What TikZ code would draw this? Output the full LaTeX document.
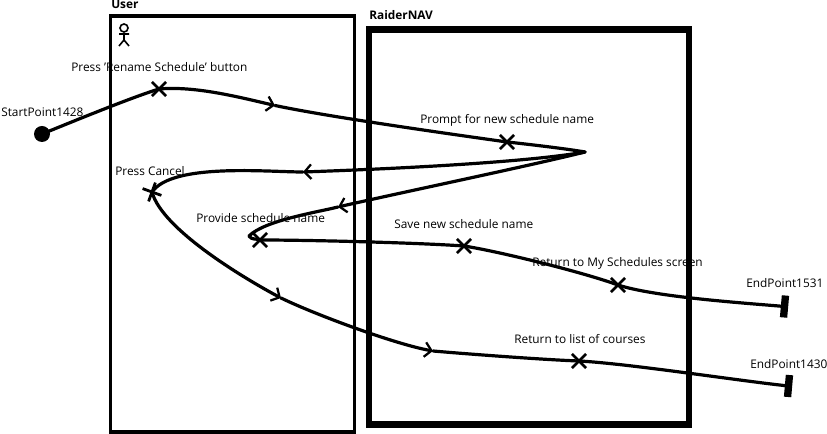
\documentclass[tikz,border=0pt]{standalone}
\usepackage{fontspec}
\setmainfont{Open Sans}
\usetikzlibrary{arrows.meta, shapes.misc}

\begin{document}
\begin{tikzpicture}
[x=0.75pt, y=0.75pt,
 >={Straight Barb[length=5pt,width=11pt,line width=1.7pt]},
 every edge/.style={draw,line width=2.4pt,line cap=round,looseness=0.6},
 tip/.style={every edge/.append style={->}},
 label/.style={font=\fontsize{8.9}{11}\selectfont,inner sep=0pt,anchor=west},
 title/.style={font=\fontsize{8.9}{11}\selectfont\bfseries,inner sep=0pt,anchor=west},
 lane/.style={draw,rectangle,inner sep=0pt},
 mark x/.style={draw,cross out,line width=2.1pt,minimum size=8.5pt,inner sep=0pt},
 endbar/.style={fill=black,rectangle,minimum width=5.5pt,minimum height=16.5pt,inner sep=0pt},
]

\useasboundingbox (0,0) rectangle (827,434);

\node[lane, line width=2.3pt, minimum width=183pt, minimum height=312pt] (user) at (232.5,210) {};
\node[lane, line width=5.2pt, minimum width=240pt, minimum height=296pt] (nav) at (529,207) {};

\node[title] (usertitle) at (111,430) {User};
\node[title] (navtitle) at (369,419) {RaiderNAV};

\node[circle, draw, line width=1.2pt, minimum size=6pt, inner sep=0pt] (actor) at (124,406) {};
\coordinate (hip) at (124,394);
\coordinate (armL) at (119,400);
\coordinate (armR) at (129,400);
\coordinate (legL) at (119,388);
\coordinate (legR) at (129,388);
\draw[line width=1.2pt] (actor.south) -- (hip) (armL) -- (armR) (legL) -- (hip) -- (legR);

\node[label] (lstart) at (1,322) {StartPoint1428};
\node[label] (lpress) at (71,367) {Press 'Rename Schedule' button};
\node[label] (lprompt) at (420,314) {Prompt for new schedule name};
\node[label] (lcancel) at (115,263) {Press Cancel};
\node[label] (lprovide) at (196,216) {Provide schedule name};
\node[label] (lsave) at (394,210) {Save new schedule name};
\node[label] (lmy) at (532,171) {Return to My Schedules screen};
\node[label] (lend1) at (746,151) {EndPoint1531};
\node[label] (llist) at (514,95) {Return to list of courses};
\node[label] (lend2) at (750,70) {EndPoint1430};

\node[circle, fill=black, minimum size=12pt, inner sep=0pt] (start) at (42,300) {};
\node[mark x] (press) at (159,345) {};
\node[mark x] (prompt) at (507,292) {};
\node[mark x, rotate=25] (cancel) at (152,242) {};
\node[mark x] (provide) at (260,194) {};
\node[mark x] (save) at (464,188) {};
\node[mark x] (screens) at (618,149) {};
\node[mark x] (courses) at (579,73) {};
\node[endbar, rotate=-5] (end1) at (784.5,127.5) {};
\node[endbar, rotate=-5] (end2) at (788.5,48) {};

\coordinate (tip1) at (275,328.5);
\coordinate (turn) at (585,282);
\coordinate (tip2) at (303,262);
\coordinate (tip3) at (338,227);
\coordinate (bend) at (249,198);
\coordinate (tip4) at (281,136);
\coordinate (tip5) at (433,83);

\path
(start.center)   edge[out=22, in=197]    (press.center)
(tip1)           edge[out=-12, in=172]   (prompt.center)
(prompt.center)  edge[out=-6, in=170]    (turn)
(tip2)           edge[out=180, in=55]    (cancel.center)
(tip3)           edge[out=194, in=45]    (bend)
(bend)           edge[out=-60, in=160, looseness=1] (provide.center)
(provide.center) edge[out=0, in=176]     (save.center)
(save.center)    edge[out=-9, in=160]    (screens.center)
(screens.center) edge[out=-18, in=175]   (end1.center)
(tip5)           edge[out=-5, in=178]    (courses.center)
(courses.center) edge[out=-3, in=174]    (end2.center);

\path[tip]
(press.center)   edge[out=5, in=167, looseness=0.8] (tip1)
(turn)           edge[out=190, in=2]     (tip2)
(turn)           edge[out=194, in=13]    (tip3)
(cancel.center)  edge[out=-75, in=152]   (tip4)
(tip4)           edge[out=-26, in=170]   (tip5);
\end{tikzpicture}
\end{document}
